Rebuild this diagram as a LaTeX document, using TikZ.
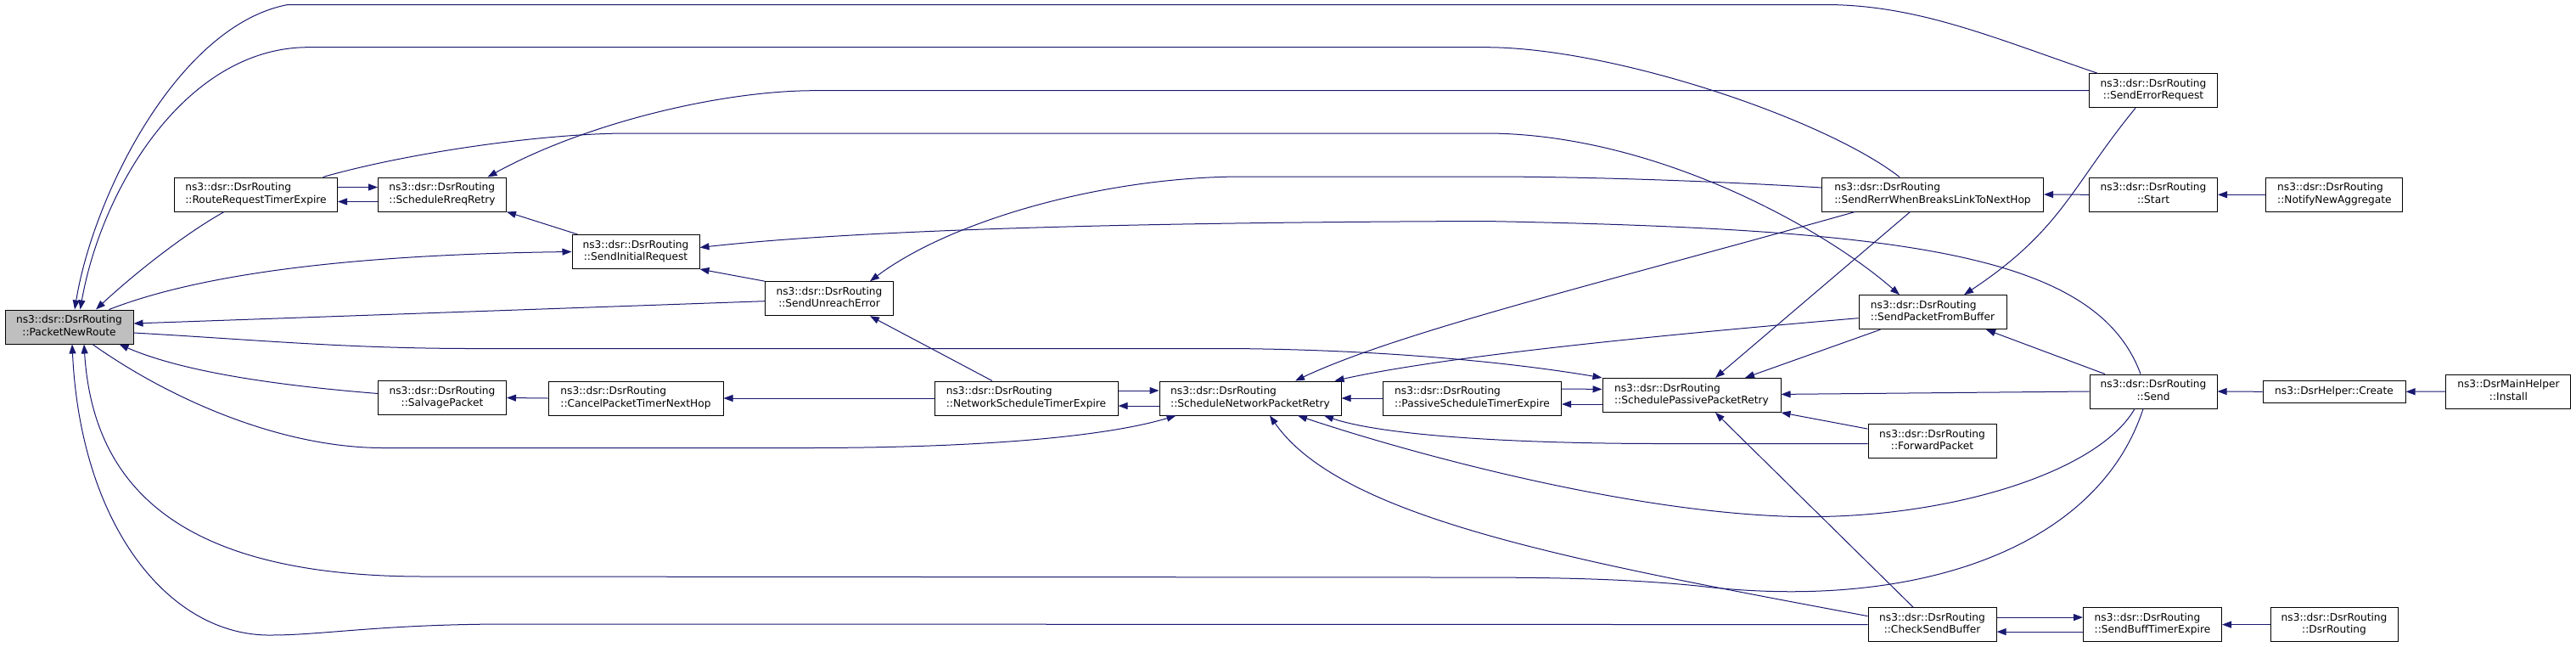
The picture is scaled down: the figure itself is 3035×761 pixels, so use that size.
\documentclass[tikz,border=0pt]{standalone}
\usepackage{fontspec}
\setmainfont{DejaVu Sans}
\usepackage{xcolor}
\usepackage{tikz}
\usetikzlibrary{
    calc,
    arrows.meta
}
\definecolor{edgeblue}{HTML}{191970}
\definecolor{rootgray}{HTML}{BFBFBF}
\newcommand{\fname}[2]{\begin{tabular}{@{}l@{}}#1\\\multicolumn{1}{@{}c@{}}{#2}\end{tabular}}
\tikzset{
    fn/.style={draw=black, line width=1pt, fill=white, minimum height=40pt, inner xsep=5pt, inner ysep=2pt,
        font=\fontsize{12.2}{14.5}\selectfont},
    root/.style={fn, fill=rootgray},
    edge/.style={draw=edgeblue, line width=1pt},
    >={Triangle[length=11pt,width=8pt]}
}

\begin{document}
\begin{tikzpicture}[x=1pt, y=-1pt]
        \useasboundingbox (0,0) rectangle (3035,761);

        % left part
        \draw (81.5,385) node[root, minimum width=151pt](pnr){\fname{ns3::dsr::DsrRouting}{::PacketNewRoute}};
        \draw (301.5,229) node[fn, minimum width=192pt](rrte){\fname{ns3::dsr::DsrRouting}{::RouteRequestTimerExpire}};
        \draw (521,229) node[fn, minimum width=151pt](srr){\fname{ns3::dsr::DsrRouting}{::ScheduleRreqRetry}};
        \draw (749,296.5) node[fn, minimum width=150pt](sir){\fname{ns3::dsr::DsrRouting}{::SendInitialRequest}};
        \draw (977,351.7) node[fn, minimum width=151pt](sue){\fname{ns3::dsr::DsrRouting}{::SendUnreachError}};
        \draw (521,468.5) node[fn, minimum width=151pt](sp){\fname{ns3::dsr::DsrRouting}{::SalvagePacket}};
        \draw (749,469) node[fn, minimum width=206pt](cptnh){\fname{ns3::dsr::DsrRouting}{::CancelPacketTimerNextHop}};
        \draw (1209,469) node[fn, minimum width=216pt](nste){\fname{ns3::dsr::DsrRouting}{::NetworkScheduleTimerExpire}};
        \draw (1473,469) node[fn, minimum width=214pt](snpr){\fname{ns3::dsr::DsrRouting}{::ScheduleNetworkPacketRetry}};
        \draw (1734.5,469) node[fn, minimum width=210pt](pste){\fname{ns3::dsr::DsrRouting}{::PassiveScheduleTimerExpire}};
        \draw (1993,465.4) node[fn, minimum width=210pt](sppr){\fname{ns3::dsr::DsrRouting}{::SchedulePassivePacketRetry}};

        % right part
        \draw (2277,229) node[fn, minimum width=261pt](srwbl){\fname{ns3::dsr::DsrRouting}{::SendRerrWhenBreaksLinkToNextHop}};
        \draw (2277,367.7) node[fn, minimum width=174pt](spfb){\fname{ns3::dsr::DsrRouting}{::SendPacketFromBuffer}};
        \draw (2276.5,519.6) node[fn, minimum width=151pt](fp){\fname{ns3::dsr::DsrRouting}{::ForwardPacket}};
        \draw (2276.5,735.6) node[fn, minimum width=151pt](csb){\fname{ns3::dsr::DsrRouting}{::CheckSendBuffer}};
        \draw (2537,106.7) node[fn, minimum width=151pt](ser){\fname{ns3::dsr::DsrRouting}{::SendErrorRequest}};
        \draw (2537,229.3) node[fn, minimum width=151pt](start){\fname{ns3::dsr::DsrRouting}{::Start}};
        \draw (2537,461) node[fn, minimum width=150pt](send){\fname{ns3::dsr::DsrRouting}{::Send}};
        \draw (2536,735.6) node[fn, minimum width=163pt](sbte){\fname{ns3::dsr::DsrRouting}{::SendBuffTimerExpire}};
        \draw (2750.4,229.3) node[fn, minimum width=161pt](nna){\fname{ns3::dsr::DsrRouting}{::NotifyNewAggregate}};
        \draw (2750,461.3) node[fn, minimum width=168pt, minimum height=26pt](create){ns3::DsrHelper::Create};
        \draw (2955.4,461) node[fn, minimum width=147pt](install){\fname{ns3::DsrMainHelper}{::Install}};
        \draw (2750,735.6) node[fn, minimum width=150pt](drr){\fname{ns3::dsr::DsrRouting}{::DsrRouting}};

        % calls into PacketNewRoute
        \draw[edge, ->] ([xshift=10]ser.north west) .. controls (2350,45) and (2260,5.5) .. (2150,5.5) -- (339,5.5)
            .. controls (210,30) and (110,230) .. ([xshift=6.5]pnr.north);
        \draw[edge, ->] ([xshift=-39]srwbl.north) .. controls (2150,140) and (1900,55.7) .. (1750,55.7) -- (363,55.7)
            .. controls (220,56) and (120,220) .. ([xshift=13]pnr.north);
        \draw[edge, ->] ([xshift=-37.5]rrte.south) .. controls (210,280) and (150,330) .. ([xshift=31.5]pnr.north);
        \draw[edge, ->] ([yshift=-3]sue.west) -- ([yshift=4]pnr.east);
        \draw[edge, ->] ([yshift=5]sp.west) .. controls (340,455) and (220,440) .. ([xshift=-17]pnr.south east);
        \draw[edge, ->] ([xshift=-12]send.south) .. controls (2470,650) and (2250,720) .. (2000,690)
            .. controls (1900,680) and (1800,680) .. (1700,680) -- (500,679)
            .. controls (220,679) and (110,580) .. ([xshift=17.5]pnr.south);
        \draw[edge, ->] (csb.west) -- (600,735) .. controls (450,735) and (380,748) .. (320,748)
            .. controls (200,750) and (95,620) .. ([xshift=3.5]pnr.south);

        % calls out of PacketNewRoute
        \draw[edge, ->] ([xshift=47]pnr.north) .. controls (230,325) and (400,300) .. (sir.west);
        \draw[edge, ->] ([yshift=-7]pnr.east) .. controls (300,400) and (400,410) .. (550,410.5) -- (1450,410.5)
            .. controls (1650,412) and (1800,430) .. (sppr.north west);
        \draw[edge, ->] ([xshift=27.5]pnr.south) .. controls (200,470) and (330,527) .. (450,527.5) -- (950,527.5)
            .. controls (1150,527.5) and (1300,515) .. ([xshift=20]snpr.south west);

        % request retries
        \draw[edge, ->] ([yshift=8.5]rrte.east) -- ([yshift=8.5]srr.west);
        \draw[edge, ->] ([yshift=-8.5]srr.west) -- ([yshift=-8.5]rrte.east);
        \draw[edge, ->] ([xshift=7]sir.north west) -- (srr.south east);
        \draw[edge, ->] (ser.west) -- (960,106.7) .. controls (850,106.7) and (690,145) .. ([xshift=53.5]srr.north);
        \draw[edge, ->] ([xshift=79]rrte.north) .. controls (480,180) and (640,157) .. (740,157) -- (1750,157)
            .. controls (1950,157) and (2150,270) .. ([xshift=-39]spfb.north);
        \draw[edge, ->] (sue.north west) -- (sir.south east);
        \draw[edge, ->] ([xshift=-15]send.north) .. controls (2470,300) and (2250,270) .. (1750,260.5)
            .. controls (1300,262) and (1000,272) .. ([yshift=5]sir.east);
        \draw[edge, ->] ([yshift=8]srwbl.west) .. controls (2000,212) and (1850,208) .. (1750,208) -- (1465,208)
            .. controls (1300,208) and (1120,260) .. ([xshift=48]sue.north);

        % middle row
        \draw[edge, ->] (cptnh.west) -- (sp.east);
        \draw[edge, ->] (nste.west) -- (cptnh.east);
        \draw[edge, ->] ([xshift=-40]nste.north) -- ([xshift=48]sue.south);
        \draw[edge, ->] ([yshift=9]nste.east) -- ([yshift=9]snpr.west);
        \draw[edge, ->] ([yshift=-9]snpr.west) -- ([yshift=-9]nste.east);
        \draw[edge, ->] (pste.west) -- (snpr.east);
        \draw[edge, ->] ([yshift=11]pste.east) -- ([yshift=7]sppr.west);
        \draw[edge, ->] ([yshift=-10.6]sppr.west) -- ([yshift=-7]pste.east);

        % into ScheduleNetworkPacketRetry
        \draw[edge, ->] ([xshift=-91.5]srwbl.south) .. controls (1900,330) and (1650,390) .. ([xshift=53]snpr.north);
        \draw[edge, ->] ([yshift=-7]spfb.west) .. controls (1950,395) and (1700,420) .. ([xshift=-8]snpr.north east);
        \draw[edge, ->] ([xshift=-22]send.south) .. controls (2470,560) and (2280,615) .. (2100,608)
            .. controls (1900,600) and (1650,530) .. ([xshift=56]snpr.south);
        \draw[edge, ->] ([yshift=10]csb.west) .. controls (1850,660) and (1580,610) .. ([xshift=23]snpr.south);
        \draw[edge, ->] ([yshift=-3]fp.west) -- (1950,522.5) .. controls (1750,522) and (1620,510) .. ([xshift=87]snpr.south);

        % into SchedulePassivePacketRetry
        \draw[edge, ->] (send.west) -- ([yshift=1]sppr.east);
        \draw[edge, ->] ([xshift=-61.6]spfb.south) -- ([xshift=63]sppr.north);
        \draw[edge, ->] ([xshift=-26.5]srwbl.south) -- ([xshift=28]sppr.north);
        \draw[edge, ->] ([yshift=14.5]fp.west) -- (sppr.south east);
        \draw[edge, ->] ([xshift=-22.5]csb.north) -- ([xshift=28]sppr.south);

        % right side
        \draw[edge, ->] ([xshift=-57]send.north) -- ([xshift=63]spfb.south);
        \draw[edge, ->] ([xshift=-21]ser.south) .. controls (2440,220) and (2430,270) .. ([xshift=37]spfb.north);
        \draw[edge, ->] (start.west) -- (srwbl.east);
        \draw[edge, ->] (nna.west) -- (start.east);
        \draw[edge, ->] (create.west) -- (send.east);
        \draw[edge, ->] (install.west) -- (create.east);
        \draw[edge, ->] ([yshift=8.5]csb.east) -- ([yshift=8.5]sbte.west);
        \draw[edge, ->] ([yshift=-8.5]sbte.west) -- ([yshift=-8.5]csb.east);
        \draw[edge, ->] (drr.west) -- (sbte.east);
    \end{tikzpicture}
\end{document}
